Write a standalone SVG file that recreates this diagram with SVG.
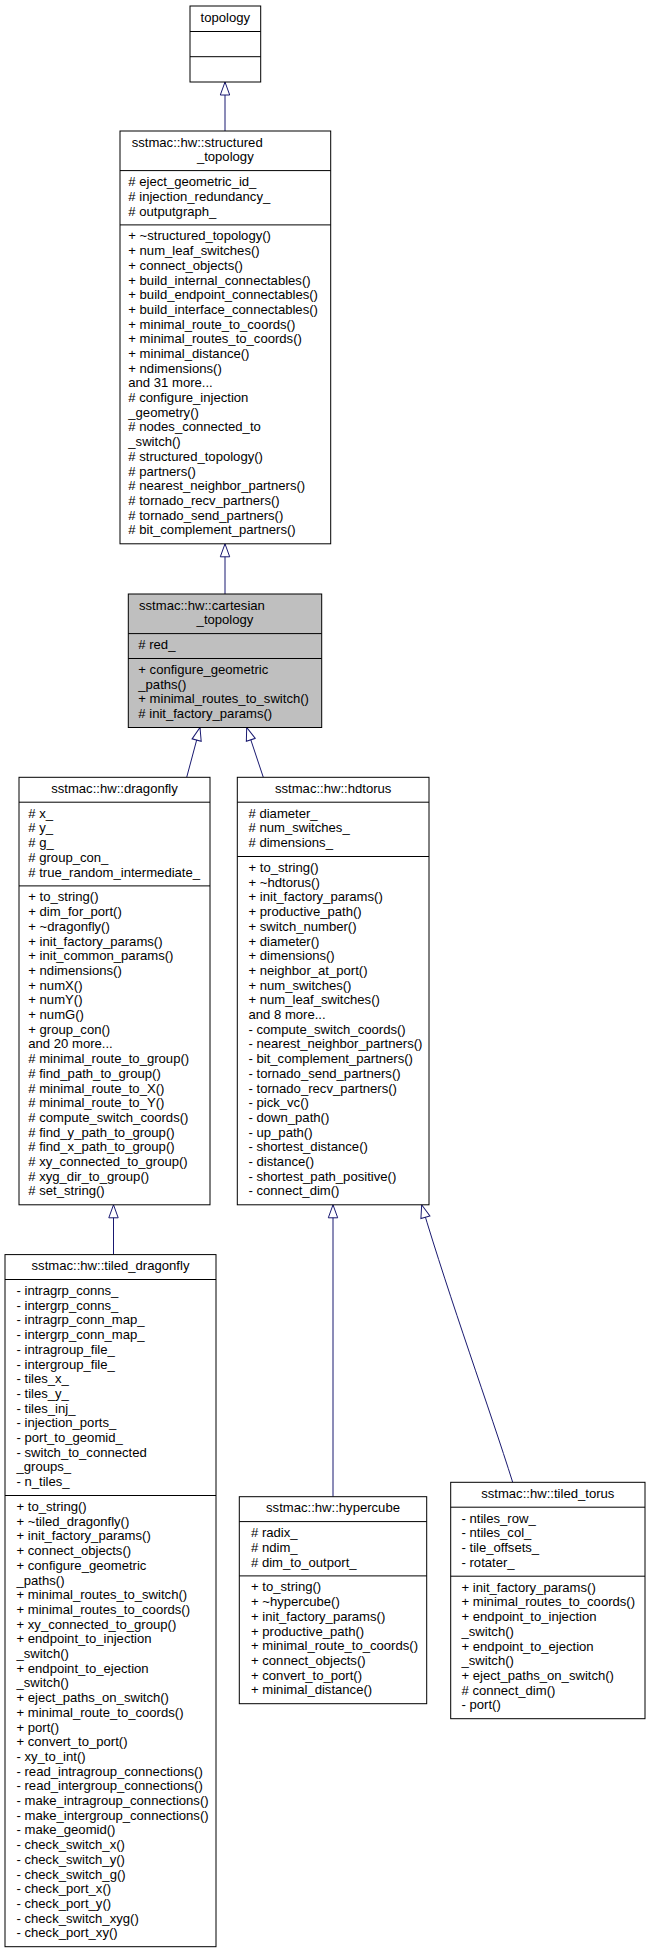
<svg xmlns="http://www.w3.org/2000/svg" width="651" height="1953" viewBox="0 0 651 1953">
<style>
.box{fill:#fff;stroke:#000;stroke-width:1}
.cur{fill:#bfbfbf}
.dv{fill:none;stroke:#000;stroke-width:1}
text{font-family:"Liberation Sans",Arial,Helvetica,sans-serif;font-size:13.1px;fill:#000}
.c{text-anchor:middle}
.edge{fill:none;stroke:#191970;stroke-width:1;marker-end:url(#tri)}
</style>
<defs>
<marker id="tri" markerUnits="userSpaceOnUse" markerWidth="15" markerHeight="12" viewBox="0 0 15 12" refX="14" refY="6" orient="auto">
<path d="M1,1.3 L14,6 L1,10.7 Z" fill="#fff" stroke="#191970" stroke-width="1"/>
</marker>
</defs>
<rect width="651" height="1953" fill="#fff"/>
<g id="connectors">
<path class="edge" d="M225,131 L225,82"/>
<path class="edge" d="M225,594 L225,543.8"/>
<path class="edge" d="M186.7,777.3 L200,727.5"/>
<path class="edge" d="M263.3,777.3 L246.7,727.5"/>
<path class="edge" d="M113.5,1254.6 L113.5,1204.8"/>
<path class="edge" d="M333,1496.7 L333,1204.8"/>
<path class="edge" d="M512.7,1482.3 C490,1410 450,1300 421.7,1204.8"/>
</g>
<g id="topology">
<rect class="box" x="190" y="6" width="70.7" height="76"/>
<path class="dv" d="M190,31.5H260.7M190,56.7H260.7"/>
<text class="c" x="225.3" y="21.5">topology</text>
</g>
<g id="structured_topology">
<rect class="box" x="120" y="131" width="210.7" height="412.8"/>
<path class="dv" d="M120,170.6H330.7M120,224.9H330.7"/>
<text x="131.7" y="146.5">sstmac::hw::structured</text>
<text class="c" x="225.3" y="161.2">_topology</text>
<text y="186.1"><tspan x="128.3"># eject_geometric_id_</tspan><tspan x="128.3" dy="14.7"># injection_redundancy_</tspan><tspan x="128.3" dy="14.7"># outputgraph_</tspan></text>
<text y="240.4"><tspan x="128.3">+ ~structured_topology()</tspan><tspan x="128.3" dy="14.7">+ num_leaf_switches()</tspan><tspan x="128.3" dy="14.7">+ connect_objects()</tspan><tspan x="128.3" dy="14.7">+ build_internal_connectables()</tspan><tspan x="128.3" dy="14.7">+ build_endpoint_connectables()</tspan><tspan x="128.3" dy="14.7">+ build_interface_connectables()</tspan><tspan x="128.3" dy="14.7">+ minimal_route_to_coords()</tspan><tspan x="128.3" dy="14.7">+ minimal_routes_to_coords()</tspan><tspan x="128.3" dy="14.7">+ minimal_distance()</tspan><tspan x="128.3" dy="14.7">+ ndimensions()</tspan><tspan x="128.3" dy="14.7">and 31 more...</tspan><tspan x="128.3" dy="14.7"># configure_injection</tspan><tspan x="128.3" dy="14.7">_geometry()</tspan><tspan x="128.3" dy="14.7"># nodes_connected_to</tspan><tspan x="128.3" dy="14.7">_switch()</tspan><tspan x="128.3" dy="14.7"># structured_topology()</tspan><tspan x="128.3" dy="14.7"># partners()</tspan><tspan x="128.3" dy="14.7"># nearest_neighbor_partners()</tspan><tspan x="128.3" dy="14.7"># tornado_recv_partners()</tspan><tspan x="128.3" dy="14.7"># tornado_send_partners()</tspan><tspan x="128.3" dy="14.7"># bit_complement_partners()</tspan></text>
</g>
<g id="cartesian_topology">
<rect class="box cur" x="128.3" y="594" width="193.4" height="133.5"/>
<path class="dv" d="M128.3,633.6H321.7M128.3,658.5H321.7"/>
<text x="139" y="609.5">sstmac::hw::cartesian</text>
<text class="c" x="225" y="624.2">_topology</text>
<text x="138.3" y="649.1"># red_</text>
<text y="674"><tspan x="138.3">+ configure_geometric</tspan><tspan x="138.3" dy="14.7">_paths()</tspan><tspan x="138.3" dy="14.7">+ minimal_routes_to_switch()</tspan><tspan x="138.3" dy="14.7"># init_factory_params()</tspan></text>
</g>
<g id="dragonfly">
<rect class="box" x="19" y="777.3" width="191" height="427.5"/>
<path class="dv" d="M19,802.2H210M19,885.9H210"/>
<text class="c" x="114.5" y="792.8">sstmac::hw::dragonfly</text>
<text y="817.7"><tspan x="28.3"># x_</tspan><tspan x="28.3" dy="14.7"># y_</tspan><tspan x="28.3" dy="14.7"># g_</tspan><tspan x="28.3" dy="14.7"># group_con_</tspan><tspan x="28.3" dy="14.7"># true_random_intermediate_</tspan></text>
<text y="901.4"><tspan x="28.3">+ to_string()</tspan><tspan x="28.3" dy="14.7">+ dim_for_port()</tspan><tspan x="28.3" dy="14.7">+ ~dragonfly()</tspan><tspan x="28.3" dy="14.7">+ init_factory_params()</tspan><tspan x="28.3" dy="14.7">+ init_common_params()</tspan><tspan x="28.3" dy="14.7">+ ndimensions()</tspan><tspan x="28.3" dy="14.7">+ numX()</tspan><tspan x="28.3" dy="14.7">+ numY()</tspan><tspan x="28.3" dy="14.7">+ numG()</tspan><tspan x="28.3" dy="14.7">+ group_con()</tspan><tspan x="28.3" dy="14.7">and 20 more...</tspan><tspan x="28.3" dy="14.7"># minimal_route_to_group()</tspan><tspan x="28.3" dy="14.7"># find_path_to_group()</tspan><tspan x="28.3" dy="14.7"># minimal_route_to_X()</tspan><tspan x="28.3" dy="14.7"># minimal_route_to_Y()</tspan><tspan x="28.3" dy="14.7"># compute_switch_coords()</tspan><tspan x="28.3" dy="14.7"># find_y_path_to_group()</tspan><tspan x="28.3" dy="14.7"># find_x_path_to_group()</tspan><tspan x="28.3" dy="14.7"># xy_connected_to_group()</tspan><tspan x="28.3" dy="14.7"># xyg_dir_to_group()</tspan><tspan x="28.3" dy="14.7"># set_string()</tspan></text>
</g>
<g id="hdtorus">
<rect class="box" x="237.3" y="777.3" width="191.7" height="427.5"/>
<path class="dv" d="M237.3,802.2H429M237.3,856.5H429"/>
<text class="c" x="333.2" y="792.8">sstmac::hw::hdtorus</text>
<text y="817.7"><tspan x="248.5"># diameter_</tspan><tspan x="248.5" dy="14.7"># num_switches_</tspan><tspan x="248.5" dy="14.7"># dimensions_</tspan></text>
<text y="872"><tspan x="248.5">+ to_string()</tspan><tspan x="248.5" dy="14.7">+ ~hdtorus()</tspan><tspan x="248.5" dy="14.7">+ init_factory_params()</tspan><tspan x="248.5" dy="14.7">+ productive_path()</tspan><tspan x="248.5" dy="14.7">+ switch_number()</tspan><tspan x="248.5" dy="14.7">+ diameter()</tspan><tspan x="248.5" dy="14.7">+ dimensions()</tspan><tspan x="248.5" dy="14.7">+ neighbor_at_port()</tspan><tspan x="248.5" dy="14.7">+ num_switches()</tspan><tspan x="248.5" dy="14.7">+ num_leaf_switches()</tspan><tspan x="248.5" dy="14.7">and 8 more...</tspan><tspan x="248.5" dy="14.7">- compute_switch_coords()</tspan><tspan x="248.5" dy="14.7">- nearest_neighbor_partners()</tspan><tspan x="248.5" dy="14.7">- bit_complement_partners()</tspan><tspan x="248.5" dy="14.7">- tornado_send_partners()</tspan><tspan x="248.5" dy="14.7">- tornado_recv_partners()</tspan><tspan x="248.5" dy="14.7">- pick_vc()</tspan><tspan x="248.5" dy="14.7">- down_path()</tspan><tspan x="248.5" dy="14.7">- up_path()</tspan><tspan x="248.5" dy="14.7">- shortest_distance()</tspan><tspan x="248.5" dy="14.7">- distance()</tspan><tspan x="248.5" dy="14.7">- shortest_path_positive()</tspan><tspan x="248.5" dy="14.7">- connect_dim()</tspan></text>
</g>
<g id="tiled_dragonfly">
<rect class="box" x="5" y="1254.6" width="211" height="692.1"/>
<path class="dv" d="M5,1279.5H216M5,1495.5H216"/>
<text class="c" x="110.5" y="1270.1">sstmac::hw::tiled_dragonfly</text>
<text y="1295"><tspan x="16.5">- intragrp_conns_</tspan><tspan x="16.5" dy="14.7">- intergrp_conns_</tspan><tspan x="16.5" dy="14.7">- intragrp_conn_map_</tspan><tspan x="16.5" dy="14.7">- intergrp_conn_map_</tspan><tspan x="16.5" dy="14.7">- intragroup_file_</tspan><tspan x="16.5" dy="14.7">- intergroup_file_</tspan><tspan x="16.5" dy="14.7">- tiles_x_</tspan><tspan x="16.5" dy="14.7">- tiles_y_</tspan><tspan x="16.5" dy="14.7">- tiles_inj_</tspan><tspan x="16.5" dy="14.7">- injection_ports_</tspan><tspan x="16.5" dy="14.7">- port_to_geomid_</tspan><tspan x="16.5" dy="14.7">- switch_to_connected</tspan><tspan x="16.5" dy="14.7">_groups_</tspan><tspan x="16.5" dy="14.7">- n_tiles_</tspan></text>
<text y="1511"><tspan x="16.5">+ to_string()</tspan><tspan x="16.5" dy="14.7">+ ~tiled_dragonfly()</tspan><tspan x="16.5" dy="14.7">+ init_factory_params()</tspan><tspan x="16.5" dy="14.7">+ connect_objects()</tspan><tspan x="16.5" dy="14.7">+ configure_geometric</tspan><tspan x="16.5" dy="14.7">_paths()</tspan><tspan x="16.5" dy="14.7">+ minimal_routes_to_switch()</tspan><tspan x="16.5" dy="14.7">+ minimal_routes_to_coords()</tspan><tspan x="16.5" dy="14.7">+ xy_connected_to_group()</tspan><tspan x="16.5" dy="14.7">+ endpoint_to_injection</tspan><tspan x="16.5" dy="14.7">_switch()</tspan><tspan x="16.5" dy="14.7">+ endpoint_to_ejection</tspan><tspan x="16.5" dy="14.7">_switch()</tspan><tspan x="16.5" dy="14.7">+ eject_paths_on_switch()</tspan><tspan x="16.5" dy="14.7">+ minimal_route_to_coords()</tspan><tspan x="16.5" dy="14.7">+ port()</tspan><tspan x="16.5" dy="14.7">+ convert_to_port()</tspan><tspan x="16.5" dy="14.7">- xy_to_int()</tspan><tspan x="16.5" dy="14.7">- read_intragroup_connections()</tspan><tspan x="16.5" dy="14.7">- read_intergroup_connections()</tspan><tspan x="16.5" dy="14.7">- make_intragroup_connections()</tspan><tspan x="16.5" dy="14.7">- make_intergroup_connections()</tspan><tspan x="16.5" dy="14.7">- make_geomid()</tspan><tspan x="16.5" dy="14.7">- check_switch_x()</tspan><tspan x="16.5" dy="14.7">- check_switch_y()</tspan><tspan x="16.5" dy="14.7">- check_switch_g()</tspan><tspan x="16.5" dy="14.7">- check_port_x()</tspan><tspan x="16.5" dy="14.7">- check_port_y()</tspan><tspan x="16.5" dy="14.7">- check_switch_xyg()</tspan><tspan x="16.5" dy="14.7">- check_port_xy()</tspan></text>
</g>
<g id="hypercube">
<rect class="box" x="239.3" y="1496.7" width="187.4" height="207"/>
<path class="dv" d="M239.3,1521.6H426.7M239.3,1575.9H426.7"/>
<text class="c" x="333" y="1512.2">sstmac::hw::hypercube</text>
<text y="1537.1"><tspan x="251"># radix_</tspan><tspan x="251" dy="14.7"># ndim_</tspan><tspan x="251" dy="14.7"># dim_to_outport_</tspan></text>
<text y="1591.4"><tspan x="251">+ to_string()</tspan><tspan x="251" dy="14.7">+ ~hypercube()</tspan><tspan x="251" dy="14.7">+ init_factory_params()</tspan><tspan x="251" dy="14.7">+ productive_path()</tspan><tspan x="251" dy="14.7">+ minimal_route_to_coords()</tspan><tspan x="251" dy="14.7">+ connect_objects()</tspan><tspan x="251" dy="14.7">+ convert_to_port()</tspan><tspan x="251" dy="14.7">+ minimal_distance()</tspan></text>
</g>
<g id="tiled_torus">
<rect class="box" x="450.7" y="1482.3" width="194.3" height="236.4"/>
<path class="dv" d="M450.7,1507.2H645M450.7,1576.2H645"/>
<text class="c" x="547.8" y="1497.8">sstmac::hw::tiled_torus</text>
<text y="1522.7"><tspan x="461.5">- ntiles_row_</tspan><tspan x="461.5" dy="14.7">- ntiles_col_</tspan><tspan x="461.5" dy="14.7">- tile_offsets_</tspan><tspan x="461.5" dy="14.7">- rotater_</tspan></text>
<text y="1591.7"><tspan x="461.5">+ init_factory_params()</tspan><tspan x="461.5" dy="14.7">+ minimal_routes_to_coords()</tspan><tspan x="461.5" dy="14.7">+ endpoint_to_injection</tspan><tspan x="461.5" dy="14.7">_switch()</tspan><tspan x="461.5" dy="14.7">+ endpoint_to_ejection</tspan><tspan x="461.5" dy="14.7">_switch()</tspan><tspan x="461.5" dy="14.7">+ eject_paths_on_switch()</tspan><tspan x="461.5" dy="14.7"># connect_dim()</tspan><tspan x="461.5" dy="14.7">- port()</tspan></text>
</g>
</svg>
